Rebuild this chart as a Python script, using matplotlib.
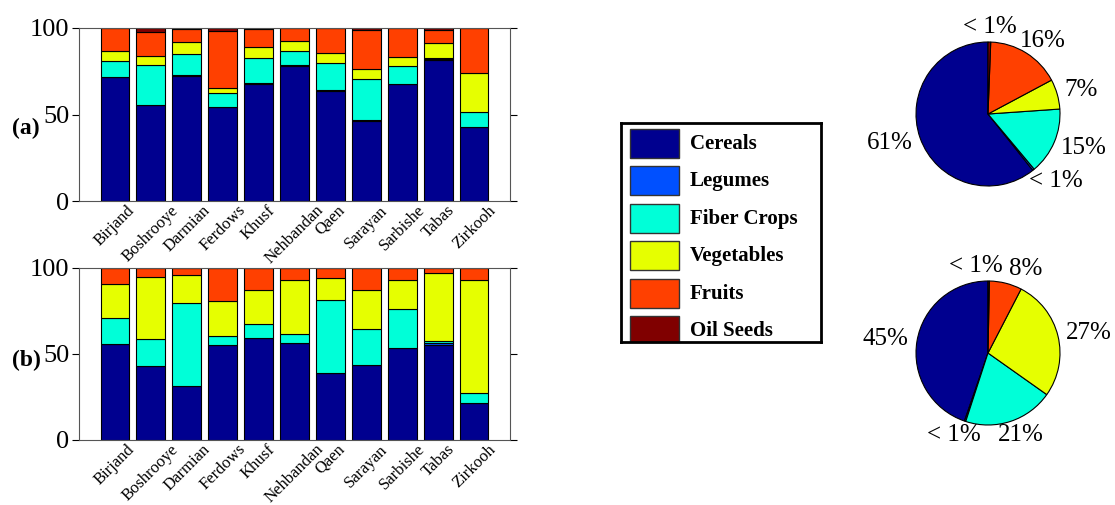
import numpy as np
import matplotlib
matplotlib.use("Agg")
import matplotlib.pyplot as plt
from matplotlib.patches import Rectangle

plt.rcParams['font.family'] = ['Liberation Serif', 'DejaVu Serif']

# --- data -------------------------------------------------------------
regions = ['Birjand', 'Boshrooye', 'Darmian', 'Ferdows', 'Khusf', 'Nehbandan',
           'Qaen', 'Sarayan', 'Sarbishe', 'Tabas', 'Zirkooh']
crops = ['Cereals', 'Legumes', 'Fiber Crops', 'Vegetables', 'Fruits', 'Oil Seeds']
crop_colors = ['#00008F', '#0050FF', '#00FFD8', '#E6FF00', '#FF4000', '#800000']

# (a) shares per region, %
a_cereals = [71.5, 55.5, 72.5, 54.2, 67.6, 78.2, 63.5, 46.3, 67.5, 81.5, 42.5]
a_legumes = [0.4, 0.1, 0.1, 0.1, 0.4, 0.3, 0.4, 0.4, 0.4, 0.6, 0.1]
a_fiber = [9.0, 22.8, 12.3, 7.9, 14.6, 8.0, 15.6, 23.8, 9.9, 0.3, 8.6]
a_veg = [6.0, 5.6, 6.8, 3.4, 6.2, 6.0, 5.8, 5.8, 5.6, 8.7, 22.5]
a_fruits = [13.1, 13.7, 7.8, 32.9, 10.8, 7.3, 14.5, 22.3, 16.6, 7.5, 26.3]
a_oil = [0.0, 2.3, 0.5, 1.5, 0.4, 0.2, 0.2, 1.4, 0.0, 1.4, 0.0]

# (b) shares per region, %
b_cereals = [55.7, 43.1, 31.5, 55.3, 59.4, 56.3, 38.8, 43.5, 53.2, 55.5, 21.4]
b_legumes = [0.2, 0.1, 0.1, 0.1, 0.1, 0.1, 0.1, 0.3, 0.1, 0.8, 0.1]
b_fiber = [14.8, 15.6, 48.0, 5.2, 7.9, 5.0, 42.5, 20.7, 22.8, 1.2, 5.7]
b_veg = [20.2, 36.2, 16.5, 20.0, 20.0, 31.8, 13.0, 22.9, 17.1, 39.4, 66.0]
b_fruits = [9.1, 5.0, 3.9, 19.4, 12.6, 6.8, 5.6, 12.6, 6.8, 3.1, 6.8]
b_oil = [0.0] * 11

# pies (whole province)
pie_a = [60.7, 0.4, 15.0, 6.7, 16.6, 0.6]
pie_a_labels = ['61%', '< 1%', '15%', '7%', '16%', '< 1%']
pie_b = [44.7, 0.3, 20.2, 27.2, 7.3, 0.3]
pie_b_labels = ['45%', '< 1%', '21%', '27%', '8%', '< 1%']

W, H = 1115, 505
fig = plt.figure(figsize=(W / 100, H / 100), dpi=100)


def px_axes(x0, y0, x1, y1):
    # pixel box (top-left origin) -> figure axes
    return fig.add_axes([x0 / W, (H - y1) / H, (x1 - x0) / W, (y1 - y0) / H])


def stacked(ax, series, tag, ty):
    x = np.arange(1, len(regions) + 1)
    bottom = np.zeros(len(regions))
    for vals, col in zip(series, crop_colors):
        vals = np.array(vals)
        ax.bar(x, vals, 0.8, bottom=bottom, color=col, edgecolor='black', linewidth=0.8)
        bottom += vals
    ax.set_xlim(0, 12)
    ax.set_ylim(0, 100)
    ax.set_yticks([0, 50, 100])
    ax.set_xticks(x)
    ax.set_xticklabels(regions, rotation=45, fontsize=12)
    ax.tick_params(axis='y', labelsize=19, direction='out', length=5, right=True, pad=2)
    ax.tick_params(axis='x', length=0, pad=1)
    for s in ax.spines.values():
        s.set_color('#555555')
    fig.text(12 / W, 1 - ty / H, tag, fontsize=17, fontweight='bold', va='center')


ax1 = px_axes(79, 28, 510, 201)
stacked(ax1, [a_cereals, a_legumes, a_fiber, a_veg, a_fruits, a_oil], '(a)', 128)
ax2 = px_axes(79, 268, 510, 440)
stacked(ax2, [b_cereals, b_legumes, b_fiber, b_veg, b_fruits, b_oil], '(b)', 360)

# legend box
axl = px_axes(621, 123, 821, 342)
axl.set_xlim(0, 200)
axl.set_ylim(219, 0)
axl.set_xticks([])
axl.set_yticks([])
for s in axl.spines.values():
    s.set_linewidth(2)
for i, (name, col) in enumerate(zip(crops, crop_colors)):
    y = 6 + 37.4 * i
    axl.add_patch(Rectangle((9, y), 49, 29, facecolor=col, edgecolor='#333333', linewidth=1))
    axl.text(69, y + 15, name, fontsize=15, fontweight='bold', va='center', ha='left')


def pie(cx, cy, vals, labels):
    r = 72
    ax = px_axes(cx - r, cy - r, cx + r, cy + r)
    wedges, _ = ax.pie(vals, colors=crop_colors, startangle=90, counterclock=True,
                       wedgeprops=dict(edgecolor='black', linewidth=0.8))
    ax.set_xlim(-1, 1)
    ax.set_ylim(-1, 1)
    fig.canvas.draw()
    rend = fig.canvas.get_renderer()
    texts = []
    for w, lab in zip(wedges, labels):
        ang = np.deg2rad((w.theta1 + w.theta2) / 2)
        c, s = np.cos(ang), np.sin(ang)
        t = ax.text(1.12 * c, 1.12 * s, lab, fontsize=18, ha='center', va='center')
        bb = t.get_window_extent(rend)
        t.set_position((1.12 * c + bb.width / 2 * c / r, 1.05 * s + bb.height / 2 * s / r))
        texts.append(t)
    # push apart overlapping neighbours horizontally
    for i in range(len(texts)):
        for j in range(i + 1, len(texts)):
            b1 = texts[i].get_window_extent(rend)
            b2 = texts[j].get_window_extent(rend)
            if b1.overlaps(b2):
                ox = min(b1.x1, b2.x1) - max(b1.x0, b2.x0) + 6
                p1 = texts[i].get_position()
                p2 = texts[j].get_position()
                sgn = 1 if p2[0] >= p1[0] else -1
                texts[i].set_position((p1[0] - sgn * ox / 2 / r, p1[1]))
                texts[j].set_position((p2[0] + sgn * ox / 2 / r, p2[1]))


pie(988, 114, pie_a, pie_a_labels)
pie(988, 353, pie_b, pie_b_labels)

fig.savefig('out.png', dpi=100)
